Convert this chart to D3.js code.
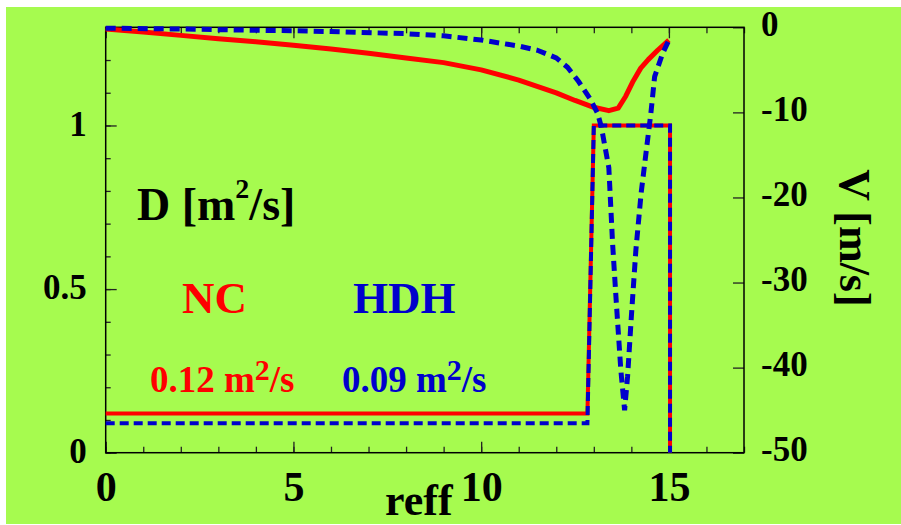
<!DOCTYPE html>
<html><head><meta charset="utf-8">
<script src="https://cdn.jsdelivr.net/npm/d3@7"></script>
<style>body{margin:0;background:#fff} svg{display:block}</style>
</head><body><svg id="c" width="901" height="525"></svg>
<script>
// ---- data ----
const xTicks = [0, 5, 10, 15];
const xMinor = d3.range(0, 18, 1);
const dTicks = [0, 0.5, 1];
const dMinor = d3.range(0, 13).map(i => i / 10);
const vTicks = [0, -10, -20, -30, -40, -50];

const reffNC = [0, 1, 2, 3, 4, 5, 6, 7, 8, 9, 10, 11, 12, 12.5, 13, 13.4, 13.65, 13.85, 14.05, 14.25, 14.45, 14.7, 15.0];
const vNC    = [-0.2, -0.55, -0.95, -1.35, -1.7, -2.1, -2.55, -3.05, -3.6, -4.15, -5.0, -6.2, -7.7, -8.6, -9.4, -9.8, -9.5, -8.1, -6.3, -4.8, -3.8, -2.7, -1.5];

const reffHDH = [0, 2, 4, 5, 6, 8, 9, 10, 11, 11.5, 12, 12.3, 12.6, 12.9, 13.1, 13.2, 13.4, 13.5, 13.6, 13.72, 13.82, 13.9, 14.0, 14.12, 14.26, 14.4, 14.52, 14.62, 14.83, 15.0];
const vHDH    = [-0.1, -0.2, -0.35, -0.4, -0.5, -0.75, -1.0, -1.5, -2.2, -2.7, -3.6, -4.7, -6.4, -8.4, -10.1, -11.7, -16.5, -25.4, -32.4, -40.3, -45.0, -41.0, -34.0, -26.2, -19.5, -14.4, -10.1, -5.8, -3.1, -1.5];

const reffD = [0, 12.83, 13.0, 15.03, 15.03];
const dNC   = [0.12, 0.12, 1.0, 1.0, 0];
const dHDH  = [0.09, 0.09, 1.0, 1.0, 0];

// ---- layout ----
const FONT = '"Liberation Serif","Times New Roman",serif';
const RED = '#ff0000', BLUE = '#0000cc', GREEN = '#a6fb4f';
const svg = d3.select('#c');
const L = 105.7, R = 744, T = 27.3, B = 452.7;
const x = d3.scaleLinear([0, 17], [L, R]);
const yD = d3.scaleLinear([0, 1.3], [B, T]);
const yV = d3.scaleLinear([-50, 0], [B, T]);

svg.append('rect').attr('x', 6).attr('y', 7).attr('width', 895).attr('height', 517).attr('fill', GREEN);

function styleAxis(g) {
  g.select('.domain').remove();
  g.selectAll('.tick line').attr('stroke', '#222').attr('stroke-width', 1.3);
  g.selectAll('text').attr('font-family', FONT).attr('font-weight', 'bold').attr('fill', '#000');
}

// bottom
svg.append('g').attr('transform', `translate(0,${B})`)
  .call(d3.axisBottom(x).tickValues(xMinor).tickSize(-6).tickFormat('')).call(styleAxis);
svg.append('g').attr('transform', `translate(0,${B})`)
  .call(d3.axisBottom(x).tickValues(xTicks).tickSize(-11).tickPadding(18).tickFormat(d => String(d)))
  .call(styleAxis)
  .call(g => g.selectAll('text').attr('font-size', 42).attr('dy', '0.71em'));
// top
svg.append('g').attr('transform', `translate(0,${T})`)
  .call(d3.axisTop(x).tickValues(xMinor).tickSize(-6).tickFormat('')).call(styleAxis);
svg.append('g').attr('transform', `translate(0,${T})`)
  .call(d3.axisTop(x).tickValues(xTicks).tickSize(-11).tickFormat('')).call(styleAxis);
// left
svg.append('g').attr('transform', `translate(${L},0)`)
  .call(d3.axisLeft(yD).tickValues(dMinor).tickSize(-5).tickFormat('')).call(styleAxis);
svg.append('g').attr('transform', `translate(${L},0)`)
  .call(d3.axisLeft(yD).tickValues(dTicks).tickSize(-11).tickPadding(19).tickFormat(d => String(d)))
  .call(styleAxis)
  .call(g => g.selectAll('text').attr('font-size', 35).attr('dy', '0.28em'));
// right
svg.append('g').attr('transform', `translate(${R},0)`)
  .call(d3.axisRight(yV).tickValues(vTicks).tickSize(-11).tickPadding(17).tickFormat(d => String(d)))
  .call(styleAxis)
  .call(g => g.selectAll('text').attr('font-size', 35).attr('dy', '0.22em'));

// frame
svg.append('rect').attr('x', L).attr('y', T).attr('width', R - L).attr('height', B - T)
  .attr('fill', 'none').attr('stroke', '#000').attr('stroke-width', 1.5);

// ---- lines ----
const lineD = d3.line().x(d => x(d[0])).y(d => yD(d[1]));
const lineV = d3.line().x(d => x(d[0])).y(d => yV(d[1]));

svg.append('path').attr('d', lineD(d3.zip(reffD, dNC)))
  .attr('fill', 'none').attr('stroke', RED).attr('stroke-width', 4);
svg.append('path').attr('d', lineD(d3.zip(reffD, dHDH)))
  .attr('fill', 'none').attr('stroke', BLUE).attr('stroke-width', 4).attr('stroke-dasharray', '9,5');
svg.append('path').attr('d', lineV(d3.zip(reffNC, vNC)))
  .attr('fill', 'none').attr('stroke', RED).attr('stroke-width', 5).attr('stroke-linejoin', 'round');
svg.append('path').attr('d', lineV(d3.zip(reffHDH, vHDH)))
  .attr('fill', 'none').attr('stroke', BLUE).attr('stroke-width', 5).attr('stroke-dasharray', '10,6');

// ---- texts ----
function txt(xx, yy, size, fill) {
  return svg.append('text').attr('x', xx).attr('y', yy).attr('font-family', FONT)
    .attr('font-weight', 'bold').attr('font-size', size).attr('fill', fill);
}
txt(385, 515, 44, '#000').text('reff');
svg.append('text').attr('transform', 'translate(840,238) rotate(90)')
  .attr('text-anchor', 'middle').attr('font-family', FONT).attr('font-weight', 'bold')
  .attr('font-size', 44).attr('fill', '#000').text('V [m/s]');

const dl = txt(137, 220, 46, '#000');
dl.append('tspan').text('D [m');
dl.append('tspan').attr('font-size', 28).attr('dy', -22).text('2');
dl.append('tspan').attr('dy', 22).text('/s]');

txt(182, 313, 45, RED).text('NC');
txt(353, 313, 45, BLUE).text('HDH');

function unitLabel(xx, val, fill) {
  const t = txt(xx, 392, 37, fill);
  t.append('tspan').text(val + ' m');
  t.append('tspan').attr('font-size', 30).attr('dy', -12).text('2');
  t.append('tspan').attr('dy', 12).text('/s');
}
unitLabel(150, '0.12', RED);
unitLabel(342, '0.09', BLUE);
</script></body></html>
